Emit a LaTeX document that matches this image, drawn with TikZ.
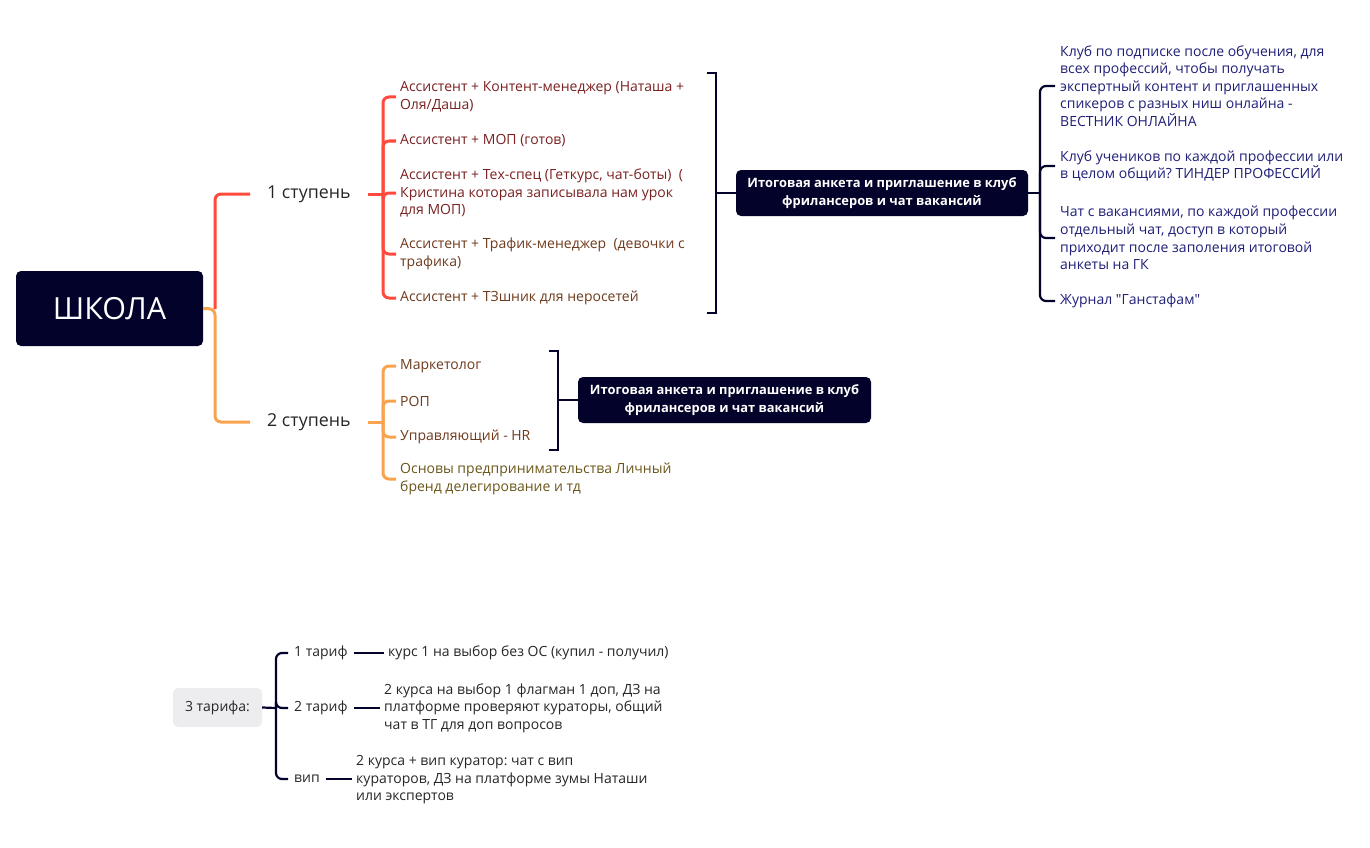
\documentclass[tikz,border=0pt]{standalone}
\usepackage{fontspec}
\setmainfont{Open Sans}
\frenchspacing
\usetikzlibrary{
		calc,
		positioning
	}
\definecolor{deepnavy}{HTML}{02022A}
\definecolor{lred}{HTML}{FF4A3D}
\definecolor{lorange}{HTML}{F9A34E}
\definecolor{redtext}{HTML}{7A2020}
\definecolor{browntext}{HTML}{6E3A1C}
\definecolor{olivetext}{HTML}{6A561A}
\definecolor{clubtext}{HTML}{1F1F78}
\definecolor{tarifgray}{HTML}{EDEDF0}
\tikzset{
		darkbox/.style={fill=deepnavy, rounded corners=5pt, text=white, align=center, font=\fontsize{12.9}{18}\selectfont\bfseries},
		leaf/.style={anchor=west, align=left, inner xsep=4pt, inner ysep=0pt, font=\fontsize{14}{17.6}\selectfont},
		stage/.style={anchor=west, inner xsep=17pt, font=\fontsize{17.8}{20}\selectfont, text=black!85},
		redline/.style={draw=lred, line width=3pt, rounded corners=6pt},
		orangeline/.style={draw=lorange, line width=3pt, rounded corners=6pt},
		navyline/.style={draw=deepnavy, line width=2.2pt, rounded corners=6pt}
	}

\begin{document}
\begin{tikzpicture}[x=1pt, y=-1pt] % one unit = one pixel of the reference, y downwards
		\useasboundingbox (0,0) rectangle (1370,848);
		% root and the two stages
		\node[darkbox, minimum width=187, minimum height=75, font=\fontsize{30.5}{34}\selectfont] (school) at (109.5,308.5) {ШКОЛА};
		\coordinate (j0) at (215,309);
		\node[stage] (st1) at (250,194) {1 ступень};
		\node[stage] (st2) at (250,422) {2 ступень};
		\draw[redline] (j0) |- (st1.west);
		\draw[orangeline] (school.east) -- (j0) |- (st2.west);

		% stage 1
		\coordinate (j1) at (383,194);
		\node[leaf, text=redtext] (a1) at (396,97) {Ассистент + Контент-менеджер (Наташа +\\Оля/Даша)};
		\node[leaf, text=redtext] (a2) at (396,141) {Ассистент + МОП (готов)};
		\node[leaf, text=redtext] (a3) at (396,193) {Ассистент + Тех-спец (Геткурс, чат-боты)~~(\\Кристина которая записывала нам урок\\для МОП)};
		\node[leaf, text=browntext] (a4) at (396,254) {Ассистент + Трафик-менеджер~~(девочки с\\трафика)};
		\node[leaf, text=browntext] (a5) at (396,298) {Ассистент + ТЗшник для неросетей};
		\draw[redline] (st1.east) -- (j1);
		\foreach \n in {a1,a2,a3,a4,a5}{
			\draw[redline] (j1) |- (\n.west);
		}
		\draw[navyline, rounded corners=0pt] (707,73) -| (716,313) -- (707,313);
		\coordinate (br1) at (716,193);
		\node[darkbox, minimum width=292, minimum height=46] (final1) at (882,193) {Итоговая анкета и приглашение в клуб\\фрилансеров и чат вакансий};
		\draw[navyline] (br1) -- (final1.west);

		% clubs after the final form
		\coordinate (j3) at (1040,193);
		\node[leaf, text=clubtext, inner xsep=5pt] (c1) at (1055,86) {Клуб по подписке после обучения, для\\всех профессий, чтобы получать\\экспертный контент и приглашенных\\спикеров с разных ниш онлайна -\\ВЕСТНИК ОНЛАЙНА};
		\node[leaf, text=clubtext, inner xsep=5pt] (c2) at (1055,166) {Клуб учеников по каждой профессии или\\в целом общий? ТИНДЕР ПРОФЕССИЙ};
		\node[leaf, text=clubtext, inner xsep=5pt] (c3) at (1055,238) {Чат с вакансиями, по каждой профессии\\отдельный чат, доступ в который\\приходит после заполения итоговой\\анкеты на ГК};
		\node[leaf, text=clubtext, inner xsep=5pt] (c4) at (1055,301) {Журнал \textquotedbl Ганстафам\textquotedbl};
		\draw[navyline] (final1.east) -- (j3);
		\foreach \n in {c1,c2,c3,c4}{
			\draw[navyline] (j3) |- (\n.west);
		}

		% stage 2
		\coordinate (j2) at (383,422);
		\node[leaf, text=browntext] (b1) at (396,366) {Маркетолог};
		\node[leaf, text=browntext] (b2) at (396,401) {РОП};
		\node[leaf, text=browntext] (b3) at (396,437) {Управляющий - HR};
		\node[leaf, text=olivetext] (b4) at (396,479) {Основы предпринимательства Личный\\бренд делегирование и тд};
		\draw[orangeline] (st2.east) -- (j2);
		\foreach \n in {b1,b2,b3,b4}{
			\draw[orangeline] (j2) |- (\n.west);
		}
		\draw[navyline, rounded corners=0pt] (549,351) -| (558,450) -- (549,450);
		\coordinate (br2) at (558,400);
		\node[darkbox, minimum width=293, minimum height=46] (final2) at (724.5,400) {Итоговая анкета и приглашение в клуб\\фрилансеров и чат вакансий};
		\draw[navyline] (br2) -- (final2.west);

		% tariffs
		\node[fill=tarifgray, rounded corners=5pt, minimum width=89, minimum height=39, font=\fontsize{14}{17.6}\selectfont, text=black!85] (tarifs) at (217.5,707.5) {3 тарифа:};
		\coordinate (j5) at (276,708);
		\node[leaf, text=black!85, inner xsep=6pt] (t1) at (288,653) {1 тариф};
		\node[leaf, text=black!85, inner xsep=6pt] (t2) at (288,708) {2 тариф};
		\node[leaf, text=black!85, inner xsep=6pt] (t3) at (288,779) {вип};
		\draw[navyline] (tarifs.east) -- (j5);
		\foreach \n in {t1,t2,t3}{
			\draw[navyline] (j5) |- (\n.west);
		}
		\node[leaf, text=black!85] (d1) at (384,653) {курс 1 на выбор без ОС (купил - получил)};
		\node[leaf, text=black!85] (d2) at (380,708) {2 курса на выбор 1 флагман 1 доп, ДЗ на\\платформе проверяют кураторы, общий\\чат в ТГ для доп вопросов};
		\node[leaf, text=black!85] (d3) at (352,780) {2 курса + вип куратор: чат с вип\\кураторов, ДЗ на платформе зумы Наташи\\или экспертов};
		\draw[navyline] (t1.east) -- (t1.east -| d1.west);
		\draw[navyline] (t2.east) -- (t2.east -| d2.west);
		\draw[navyline] (t3.east) -- (t3.east -| d3.west);
	\end{tikzpicture}
\end{document}
